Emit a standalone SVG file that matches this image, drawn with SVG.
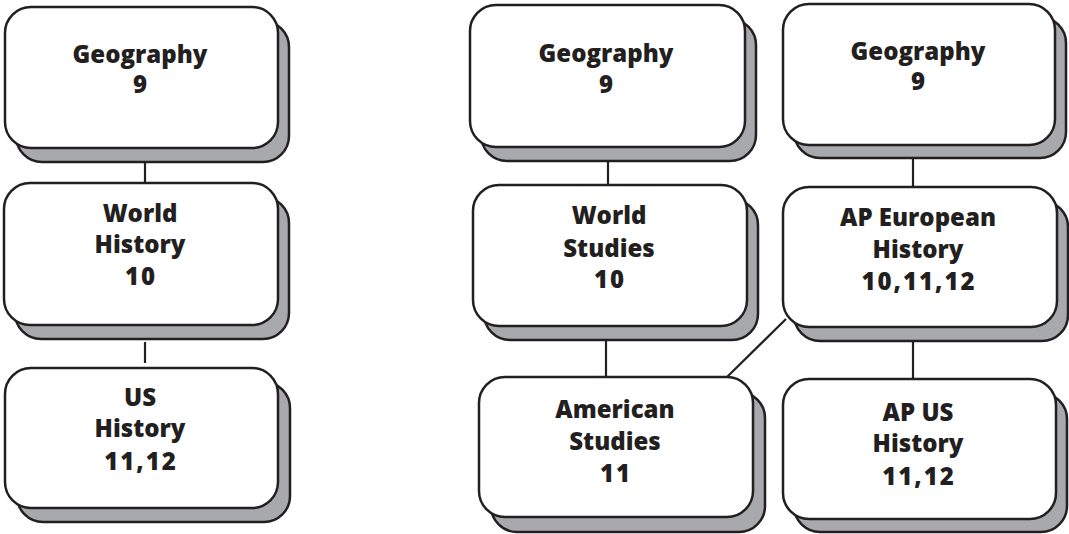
<svg xmlns="http://www.w3.org/2000/svg" width="1069" height="534" viewBox="0 0 1069 534">
<style>
.sh{fill:#a7a9ac;stroke:#231f20;stroke-width:2.5}
.fr{fill:#ffffff;stroke:#231f20;stroke-width:2.5}
.t{font-family:"Open Sans","Liberation Sans",sans-serif;font-weight:800;font-size:24px;fill:#231f20;text-anchor:middle}
.n{letter-spacing:2px}
.c{stroke:#231f20;stroke-width:2.2;fill:none}
</style>
<rect width="1069" height="534" fill="#ffffff"/>
<g id="connectors">
<line class="c" x1="145" y1="162" x2="145" y2="183"/>
<line class="c" x1="145" y1="342" x2="145" y2="363"/>
<line class="c" x1="608" y1="161" x2="608" y2="185"/>
<line class="c" x1="913" y1="158" x2="913" y2="187"/>
<line class="c" x1="606" y1="340" x2="606" y2="377"/>
<line class="c" x1="913" y1="341" x2="913" y2="379"/>
<line class="c" x1="786" y1="319" x2="727" y2="377"/>
</g>
<g id="geo-left">
<rect class="sh" x="16" y="21" width="273" height="141" rx="26"/>
<rect class="fr" x="5" y="7" width="273" height="141" rx="26"/>
<text class="t" x="140" y="63">Geography</text>
<text class="t n" x="141" y="93">9</text>
</g>
<g id="world-history">
<rect class="sh" x="15" y="197" width="274" height="142" rx="26"/>
<rect class="fr" x="4" y="183" width="274" height="142" rx="26"/>
<text class="t" x="140" y="222">World</text>
<text class="t" x="140" y="253">History</text>
<text class="t n" x="141" y="285">10</text>
</g>
<g id="us-history">
<rect class="sh" x="17" y="382" width="273" height="140" rx="26"/>
<rect class="fr" x="5" y="368" width="273" height="140" rx="26"/>
<text class="t" x="140" y="406">US</text>
<text class="t" x="140" y="437">History</text>
<text class="t n" x="141" y="470">11,12</text>
</g>
<g id="geo-mid">
<rect class="sh" x="481" y="19" width="275" height="142" rx="26"/>
<rect class="fr" x="470" y="5" width="275" height="142" rx="26"/>
<text class="t" x="606" y="62">Geography</text>
<text class="t n" x="607" y="93">9</text>
</g>
<g id="geo-right">
<rect class="sh" x="794" y="17" width="272" height="141" rx="26"/>
<rect class="fr" x="783" y="4" width="272" height="141" rx="26"/>
<text class="t" x="918" y="60">Geography</text>
<text class="t n" x="919" y="90">9</text>
</g>
<g id="world-studies">
<rect class="sh" x="484" y="199" width="274" height="141" rx="26"/>
<rect class="fr" x="473" y="185" width="274" height="141" rx="26"/>
<text class="t" x="609" y="224">World</text>
<text class="t" x="609" y="257">Studies</text>
<text class="t n" x="610" y="288">10</text>
</g>
<g id="ap-european">
<rect class="sh" x="794" y="201" width="274" height="140" rx="26"/>
<rect class="fr" x="783" y="187" width="274" height="140" rx="26"/>
<text class="t" x="918" y="226">AP European</text>
<text class="t" x="918" y="258">History</text>
<text class="t n" x="919" y="290">10,11,12</text>
</g>
<g id="american-studies">
<rect class="sh" x="491" y="392" width="274" height="140" rx="26"/>
<rect class="fr" x="479" y="377" width="274" height="140" rx="26"/>
<text class="t" x="615" y="418">American</text>
<text class="t" x="615" y="450">Studies</text>
<text class="t n" x="616" y="482">11</text>
</g>
<g id="ap-us-history">
<rect class="sh" x="794" y="393" width="273" height="139" rx="26"/>
<rect class="fr" x="783" y="379" width="273" height="140" rx="26"/>
<text class="t" x="918" y="421">AP US</text>
<text class="t" x="918" y="452">History</text>
<text class="t n" x="919" y="485">11,12</text>
</g>
</svg>
